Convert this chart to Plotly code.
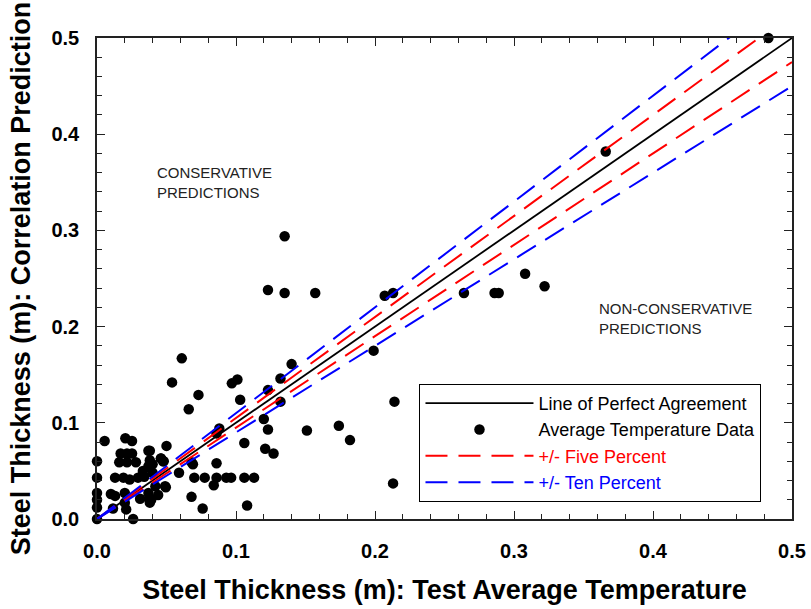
import plotly.graph_objects as go

# Measured (test average temperature) vs correlation-predicted steel thickness (m)
test_thickness = [
    0.135, 0.123, 0.135, 0.157, 0.207, 0.213, 0.061, 0.199, 0.140, 0.054,
    0.097, 0.101, 0.132, 0.073, 0.123, 0.066, 0.103, 0.132, 0.214, 0.120,
    0.123, 0.151, 0.174, 0.182, 0.086, 0.088, 0.106, 0.121, 0.127, 0.213,
    0.108, 0.076, 0.068, 0.070, 0.0775, 0.086, 0.093, 0.0965, 0.106, 0.113,
    0.084, 0.086, 0.059, 0.050, 0.037, 0.046, 0.048, 0.068, 0.069, 0.049,
    0.042, 0.483, 0.366, 0.264, 0.286, 0.289, 0.308, 0.322,
    0.0, 0.0, 0.0, 0.0, 0.0, 0.0, 0.0055, 0.0204, 0.0252, 0.017,
    0.0216, 0.0252, 0.016, 0.0216, 0.028, 0.038, 0.038, 0.040, 0.046, 0.0475,
    0.013, 0.019, 0.0235, 0.0295, 0.034, 0.040, 0.0495, 0.010, 0.013, 0.020,
    0.031, 0.037, 0.039, 0.038, 0.044, 0.0115, 0.020, 0.021, 0.026, 0.033,
    0.037, 0.0374,
]
predicted_thickness = [
    0.294, 0.238, 0.235, 0.235, 0.232, 0.235, 0.167, 0.175, 0.161, 0.142,
    0.141, 0.145, 0.146, 0.129, 0.134, 0.114, 0.124, 0.122, 0.122, 0.104,
    0.093, 0.092, 0.097, 0.082, 0.089, 0.094, 0.079, 0.073, 0.068, 0.037,
    0.014, 0.011, 0.023, 0.043, 0.043, 0.043, 0.043, 0.043, 0.043, 0.043,
    0.035, 0.058, 0.048, 0.076, 0.071, 0.063, 0.060, 0.059, 0.057, 0.034,
    0.034, 0.500, 0.382, 0.235, 0.235, 0.235, 0.255, 0.242,
    0.0, 0.012, 0.020, 0.027, 0.043, 0.060, 0.081, 0.084, 0.081, 0.068,
    0.068, 0.068, 0.059, 0.059, 0.059, 0.071, 0.061, 0.057, 0.063, 0.060,
    0.043, 0.043, 0.041, 0.043, 0.044, 0.048, 0.033, 0.026, 0.024, 0.027,
    0.021, 0.027, 0.020, 0.017, 0.025, 0.011, 0.017, 0.010, 0.0, 0.050,
    0.055, 0.021,
]

line_x = [0.0, 0.5]
five_pct_factors = [1.05, 0.95]
ten_pct_factors = [1.10, 0.90]

axis_ticks = [0.0, 0.1, 0.2, 0.3, 0.4, 0.5]
axis_tick_labels = ["0.0", "0.1", "0.2", "0.3", "0.4", "0.5"]

FONT = "Arial, 'Liberation Sans', sans-serif"

fig = go.Figure()

fig.add_trace(go.Scatter(
    x=test_thickness, y=predicted_thickness, mode="markers",
    marker=dict(color="black", size=10.5),
    name="Average Temperature Data", legendrank=2, cliponaxis=False,
))

fig.add_trace(go.Scatter(
    x=line_x, y=line_x, mode="lines",
    line=dict(color="black", width=1.8),
    name="Line of Perfect Agreement", legendrank=1,
))

for i, f in enumerate(five_pct_factors):
    fig.add_trace(go.Scatter(
        x=line_x, y=[f * v for v in line_x], mode="lines",
        line=dict(color="#ff0000", width=2, dash="22px,11px"),
        name="<span style='color:#ff0000'>+/- Five Percent</span>",
        legendgroup="five", showlegend=(i == 0), legendrank=3,
    ))

for i, f in enumerate(ten_pct_factors):
    fig.add_trace(go.Scatter(
        x=line_x, y=[f * v for v in line_x], mode="lines",
        line=dict(color="#0000ff", width=2, dash="22px,11px"),
        name="<span style='color:#0000ff'>+/- Ten Percent</span>",
        legendgroup="ten", showlegend=(i == 0), legendrank=4,
    ))

axis_common = dict(
    range=[0, 0.5], tickmode="array", tickvals=axis_ticks, ticktext=axis_tick_labels,
    ticks="inside", ticklen=8, tickwidth=1.3, tickcolor="#222",
    showline=True, linecolor="#222", linewidth=1.6, mirror="allticks",
    showgrid=False, zeroline=False, automargin=False,
    tickfont=dict(family=FONT, size=20, color="black", weight="bold"),
    minor=dict(dtick=0.02, tick0=0, ticks="inside", ticklen=5, tickwidth=1.2,
               tickcolor="#222", showgrid=False),
)

fig.update_xaxes(
    **axis_common, ticklabelstandoff=13,
    title=dict(text="Steel Thickness (m): Test Average Temperature",
               font=dict(family=FONT, size=27, color="black", weight="bold"),
               standoff=19),
)
fig.update_yaxes(
    **axis_common, ticklabelstandoff=12,
    title=dict(text="Steel Thickness (m): Correlation Prediction",
               font=dict(family=FONT, size=27, color="black", weight="bold"),
               standoff=13),
)

fig.add_annotation(
    x=0.0415, y=0.371, xref="x", yref="y", xanchor="left", yanchor="top",
    text="CONSERVATIVE<br>PREDICTIONS", showarrow=False, align="left",
    font=dict(family=FONT, size=15, color="#222"),
)
fig.add_annotation(
    x=0.3596, y=0.2294, xref="x", yref="y", xanchor="left", yanchor="top",
    text="NON-CONSERVATIVE<br>PREDICTIONS", showarrow=False, align="left",
    font=dict(family=FONT, size=15, color="#222"),
)

fig.update_layout(
    width=811, height=609,
    margin=dict(l=97, r=19, t=38, b=90, pad=0, autoexpand=False),
    plot_bgcolor="white", paper_bgcolor="white",
    font=dict(family=FONT, color="black"),
    legend=dict(
        x=0.464, y=0.281, xanchor="left", yanchor="top",
        bordercolor="black", borderwidth=1, bgcolor="white",
        font=dict(family=FONT, size=18, color="black"),
        itemwidth=108, tracegroupgap=0,
    ),
)

fig.write_html("out.html")
